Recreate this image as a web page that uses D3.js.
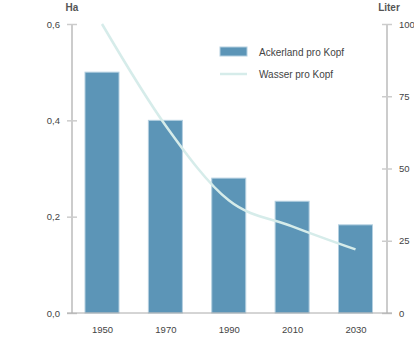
<!DOCTYPE html>
<html>
<head>
<meta charset="utf-8">
<script src="https://cdn.jsdelivr.net/npm/d3@7"></script>
<style>
  body { margin: 0; background: #fff; }
  svg text { font-family: "Liberation Sans", Arial, sans-serif; }
</style>
</head>
<body>
<div id="chart"></div>
<script>
// data
const years = ['1950', '1970', '1990', '2010', '2030'];
const ackerland = [0.5, 0.4, 0.28, 0.232, 0.183];
const wasser = [100, 65, 39, 30, 22];
const leftTicks = [0, 0.2, 0.4, 0.6];
const rightTicks = [0, 25, 50, 75, 100];

const W = 414, H = 338;
const axisColor = '#cccccc';
const textColor = '#444';

const svg = d3.select('#chart').append('svg').attr('width', W).attr('height', H);

const x = d3.scalePoint().domain(years).range([102, 355.5]);
const yL = d3.scaleLinear().domain([0, 0.6]).range([313, 24]);
const yR = d3.scaleLinear().domain([0, 100]).range([313, 24]);
const barW = 34;

// bars
svg.append('g').selectAll('rect').data(years).join('rect')
  .attr('x', (d) => x(d) - barW / 2)
  .attr('y', (d, i) => yL(ackerland[i]))
  .attr('width', barW)
  .attr('height', (d, i) => yL(0) - yL(ackerland[i]))
  .attr('fill', '#5c95b7')
  .attr('stroke', '#b3cfe0')
  .attr('stroke-width', 1);

// line
const line = d3.line()
  .x((d, i) => x(years[i]))
  .y((d) => yR(d))
  .curve(d3.curveMonotoneX);
svg.append('path').datum(wasser)
  .attr('d', line)
  .attr('fill', 'none')
  .attr('stroke', '#d6ecea')
  .attr('stroke-width', 2.5);

// axes
function styleAxis(g) {
  g.select('.domain').remove();
  g.selectAll('.tick line').attr('stroke', axisColor).attr('stroke-width', 1.5).attr('x1', -5).attr('x2', 5);
  g.selectAll('.tick text').attr('fill', textColor).style('font-size', '9.5px');
}

const leftAxis = svg.append('g').attr('transform', 'translate(72,0)')
  .call(d3.axisLeft(yL).tickValues(leftTicks).tickSize(5).tickPadding(7)
    .tickFormat((d) => d3.format('.1f')(d).replace('.', ',')))
  .call(styleAxis);
leftAxis.insert('line', ':first-child')
  .attr('y1', yL(0.6)).attr('y2', yL(0))
  .attr('stroke', axisColor).attr('stroke-width', 2);

const rightAxis = svg.append('g').attr('transform', 'translate(387,0)')
  .call(d3.axisRight(yR).tickValues(rightTicks).tickSize(5).tickPadding(7))
  .call(styleAxis);
rightAxis.insert('line', ':first-child')
  .attr('y1', yR(100)).attr('y2', yR(0))
  .attr('stroke', axisColor).attr('stroke-width', 2);

// baseline
svg.append('line')
  .attr('x1', 67).attr('x2', 392)
  .attr('y1', yL(0)).attr('y2', yL(0))
  .attr('stroke', '#aaaaaa').attr('stroke-width', 1);

// x labels
svg.append('g').attr('transform', `translate(0,${yL(0)})`)
  .call(d3.axisBottom(x).tickSize(0).tickPadding(13))
  .call((g) => g.select('.domain').remove())
  .call((g) => g.selectAll('.tick text').attr('fill', textColor).style('font-size', '9.5px'));

// axis titles
svg.append('text').attr('x', 72).attr('y', 11).attr('text-anchor', 'middle')
  .attr('fill', '#555').style('font-size', '10px').style('font-weight', 'bold').text('Ha');
svg.append('text').attr('x', 389).attr('y', 11).attr('text-anchor', 'middle')
  .attr('fill', '#555').style('font-size', '10px').style('font-weight', 'bold').text('Liter');

// legend
const legend = svg.append('g').attr('transform', 'translate(220,0)');
legend.append('rect').attr('x', 0).attr('y', 47).attr('width', 27).attr('height', 9)
  .attr('fill', '#5c95b7').attr('stroke', '#b3cfe0');
legend.append('text').attr('x', 39).attr('y', 56).attr('fill', textColor)
  .style('font-size', '10px').text('Ackerland pro Kopf');
legend.append('line').attr('x1', 0).attr('x2', 27).attr('y1', 74).attr('y2', 74)
  .attr('stroke', '#d6ecea').attr('stroke-width', 2.5);
legend.append('text').attr('x', 39).attr('y', 78).attr('fill', textColor)
  .style('font-size', '10px').text('Wasser pro Kopf');
</script>
</body>
</html>
